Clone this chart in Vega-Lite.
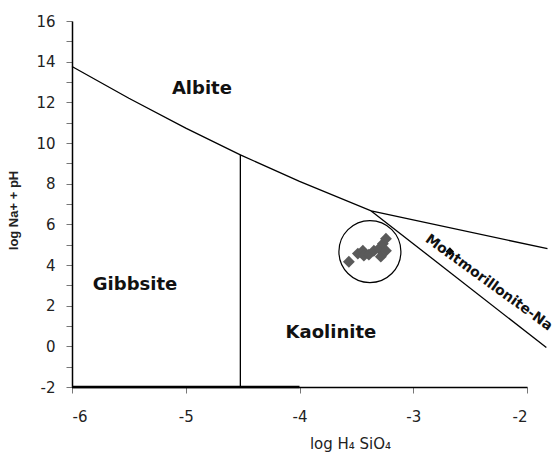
{
  "$schema": "https://vega.github.io/schema/vega-lite/v6.json",
  "width": 455,
  "height": 366,
  "autosize": {"type": "none"},
  "padding": {"left": 72, "top": 21, "right": 28, "bottom": 72},
  "background": "white",
  "config": {"view": {"stroke": null}},
  "datasets": {
    "lines": [
      {"seg": "A", "o": 1, "x": -6.0, "y": 13.76},
      {"seg": "A", "o": 2, "x": -5.5, "y": 12.2},
      {"seg": "A", "o": 3, "x": -5.0, "y": 10.73},
      {"seg": "A", "o": 4, "x": -4.52, "y": 9.42},
      {"seg": "A", "o": 5, "x": -4.0, "y": 8.11},
      {"seg": "A", "o": 6, "x": -3.37, "y": 6.66},
      {"seg": "A", "o": 7, "x": -1.82, "y": 4.8},
      {"seg": "B", "o": 1, "x": -3.37, "y": 6.66},
      {"seg": "B", "o": 2, "x": -1.83, "y": -0.06},
      {"seg": "C", "o": 1, "x": -4.52, "y": 9.42},
      {"seg": "C", "o": 2, "x": -4.52, "y": -2.0}
    ],
    "base": [
      {"x": -6.0, "y": -2.0},
      {"x": -4.0, "y": -2.0}
    ],
    "pts": [
      {"x": -3.566, "y": 4.16},
      {"x": -3.487, "y": 4.56},
      {"x": -3.443, "y": 4.70},
      {"x": -3.434, "y": 4.46},
      {"x": -3.390, "y": 4.51},
      {"x": -3.346, "y": 4.70},
      {"x": -3.302, "y": 4.80},
      {"x": -3.285, "y": 4.41},
      {"x": -3.267, "y": 5.05},
      {"x": -3.240, "y": 5.29},
      {"x": -3.240, "y": 4.70}
    ],
    "ring": [{"x": -3.381, "y": 4.66}],
    "marker": [{"x": -2.678, "y": 4.67}],
    "labels": [
      {"x": -4.858, "y": 12.66, "t": "Albite"},
      {"x": -5.446, "y": 3.03, "t": "Gibbsite"},
      {"x": -3.724, "y": 0.68, "t": "Kaolinite"}
    ],
    "rot": [{"x": -2.336, "y": 3.13, "t": "Montmorillonite-Na"}]
  },
  "encoding": {
    "x": {
      "field": "x", "type": "quantitative",
      "scale": {"domain": [-6, -2], "nice": false, "zero": false},
      "axis": {
        "values": [-6, -5, -4, -3, -2],
        "labelExpr": "datum.value < 0 ? '-' + abs(datum.value) : '' + datum.value",
        "grid": false,
        "domainColor": "#000", "domainWidth": 1.5,
        "tickColor": "#777", "tickSize": 6, "tickWidth": 1,
        "labelFont": "DejaVu Sans", "labelFontSize": 15, "labelColor": "#222",
        "labelPadding": 16, "labelOverlap": false,
        "title": "log H₄ SiO₄",
        "titleFont": "DejaVu Sans", "titleFontSize": 15, "titleFontWeight": "normal", "titleColor": "#222",
        "titleX": 278, "titleY": 61.5, "titleAlign": "center", "titleBaseline": "alphabetic"
      }
    },
    "y": {
      "field": "y", "type": "quantitative",
      "scale": {"domain": [-2, 16], "nice": false, "zero": false},
      "axis": {
        "values": [-2, -1, 0, 1, 2, 3, 4, 5, 6, 7, 8, 9, 10, 11, 12, 13, 14, 15, 16],
        "labelExpr": "datum.value % 2 != 0 ? '' : (datum.value < 0 ? '-' + abs(datum.value) : '' + datum.value)",
        "grid": false,
        "domainColor": "#000", "domainWidth": 1.5,
        "tickColor": "#777", "tickSize": 6, "tickWidth": 1,
        "labelFont": "DejaVu Sans", "labelFontSize": 15, "labelColor": "#222",
        "labelPadding": 11, "labelOverlap": false,
        "title": "log Na+ + pH",
        "titleFont": "Liberation Sans", "titleFontSize": 13, "titleFontWeight": "bold", "titleColor": "#222",
        "titleX": -59, "titleY": 189, "titleAlign": "center", "titleBaseline": "middle", "titleAngle": -90
      }
    }
  },
  "layer": [
    {
      "data": {"name": "lines"},
      "mark": {"type": "line", "color": "#000", "strokeWidth": 1.3},
      "encoding": {
        "detail": {"field": "seg", "type": "nominal"},
        "order": {"field": "o", "type": "quantitative"}
      }
    },
    {
      "data": {"name": "base"},
      "mark": {"type": "line", "color": "#000", "strokeWidth": 2.5},
      "encoding": {}
    },
    {
      "data": {"name": "pts"},
      "mark": {"type": "point", "shape": "diamond", "filled": true, "color": "#5a5a5a", "size": 140, "opacity": 1}
    },
    {
      "data": {"name": "ring"},
      "mark": {"type": "point", "shape": "circle", "filled": false, "color": "#000", "size": 3844, "strokeWidth": 1.2, "opacity": 1}
    },
    {
      "data": {"name": "marker"},
      "mark": {"type": "point", "shape": "diamond", "filled": true, "color": "#000", "size": 70, "opacity": 1}
    },
    {
      "data": {"name": "labels"},
      "mark": {"type": "text", "font": "DejaVu Sans", "fontSize": 18, "fontWeight": "bold", "color": "#111", "align": "center", "baseline": "middle"},
      "encoding": {"text": {"field": "t", "type": "nominal"}}
    },
    {
      "data": {"name": "rot"},
      "mark": {"type": "text", "font": "DejaVu Sans", "fontSize": 14, "fontWeight": "bold", "color": "#111", "align": "center", "baseline": "middle", "angle": 36},
      "encoding": {"text": {"field": "t", "type": "nominal"}}
    }
  ]
}
